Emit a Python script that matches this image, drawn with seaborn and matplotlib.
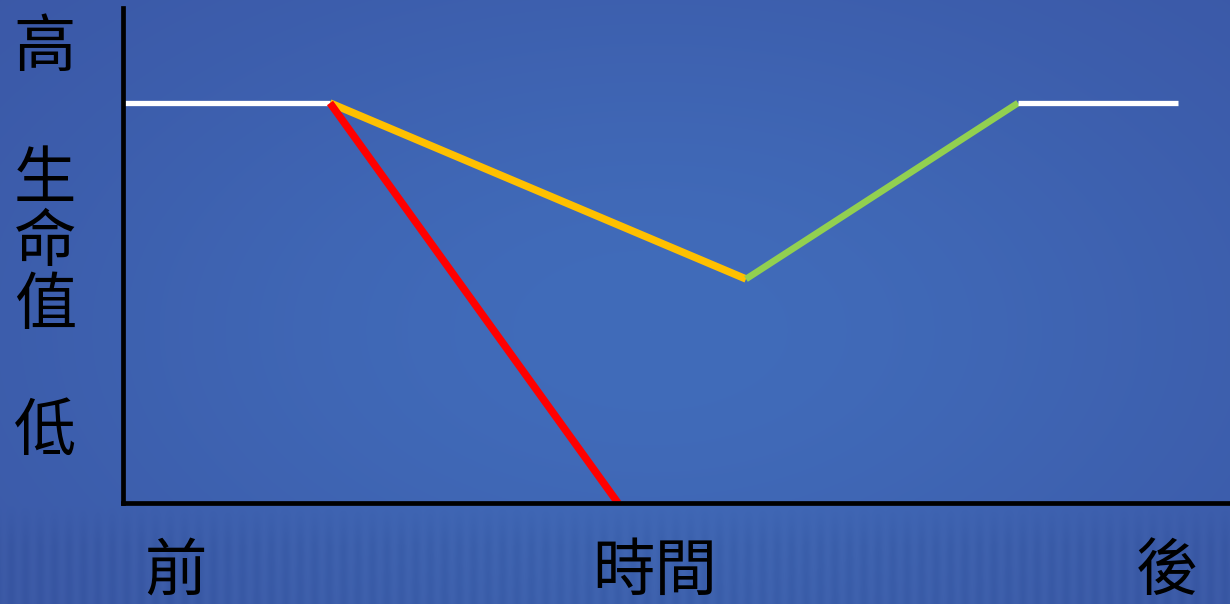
import numpy as np
import pandas as pd
import matplotlib
matplotlib.use("Agg")
import matplotlib.pyplot as plt
import seaborn as sns

# ---- data ----
seg_names = ["before", "yellow", "red", "green", "after"]
seg_x = [[0, 20.7], [20.7, 62.3], [20.7, 49.5], [62.3, 89.5], [89.5, 105.5]]
seg_y = [[100, 100], [100, 56], [100, 0], [56, 100], [100, 100]]
seg_colors = ["#ffffff", "#ffc000", "#ff0000", "#92d050", "#ffffff"]
seg_widths = [3.8, 5.4, 5.4, 4.8, 3.8]
y_labels = ["高", "生\n命\n值", "低"]
x_labels = ["前", "時間", "後"]

sns.set_theme(style="white")
plt.rcParams["font.family"] = ["Noto Sans CJK TC", "DejaVu Sans"]

fig = plt.figure(figsize=(12.3, 6.04), dpi=100)

# background gradient
bg = fig.add_axes([0, 0, 1, 1], zorder=0)
H, W = 604, 1230
yy, xx = np.mgrid[0:H, 0:W]
c1 = np.array([0x3a, 0x55, 0xa4]) / 255
c2 = np.array([0x41, 0x6c, 0xba]) / 255
d = np.exp(-(((xx - 650) / 650) ** 2 + ((yy - 330) / 380) ** 2))
t = np.clip(d, 0, 1)[..., None]
img = c1 * (1 - t) + c2 * t
# soft stripy bottom band
w = np.clip((yy - 505) / 40, 0, 1)[..., None]
stripes = 0.010 * np.sin(xx / 2.3)[..., None]
img = img * (1 - 0.03 * w) + stripes * w
bg.imshow(np.clip(img, 0, 1), aspect="auto", extent=[0, 1, 0, 1])
bg.axis("off")

ax = fig.add_axes([123 / 1230, 101 / 604, 1107 / 1230, 495 / 604], zorder=1)
ax.patch.set_alpha(0)
for name, xs, ys, col, lw in zip(seg_names, seg_x, seg_y, seg_colors, seg_widths):
    df = pd.DataFrame({"x": xs, "y": ys})
    sns.lineplot(data=df, x="x", y="y", ax=ax, color=col, linewidth=lw,
                 estimator=None, sort=False, solid_capstyle="butt")
ax.set_xlim(0, 110.7)
ax.set_ylim(0, 123.75)
ax.set_xticks([])
ax.set_yticks([])
ax.set_xlabel("")
ax.set_ylabel("")
for s in ["top", "right"]:
    ax.spines[s].set_visible(False)
for s in ["left", "bottom"]:
    ax.spines[s].set_color("black")
    ax.spines[s].set_linewidth(3.4)

fs = 45
fig.text(45 / 1230, 1 - 48 / 604, y_labels[0], fontsize=fs, ha="center", va="center", color="black")
fig.text(45 / 1230, 1 - 243 / 604, y_labels[1], fontsize=fs, ha="center", va="center",
         color="black", linespacing=0.98)
fig.text(45 / 1230, 1 - 432 / 604, y_labels[2], fontsize=fs, ha="center", va="center", color="black")
fig.text(175 / 1230, 1 - 572 / 604, x_labels[0], fontsize=fs, ha="center", va="center", color="black")
fig.text(655 / 1230, 1 - 572 / 604, x_labels[1], fontsize=fs, ha="center", va="center", color="black")
fig.text(1167 / 1230, 1 - 572 / 604, x_labels[2], fontsize=fs, ha="center", va="center", color="black")

fig.savefig("out.png", dpi=100)
